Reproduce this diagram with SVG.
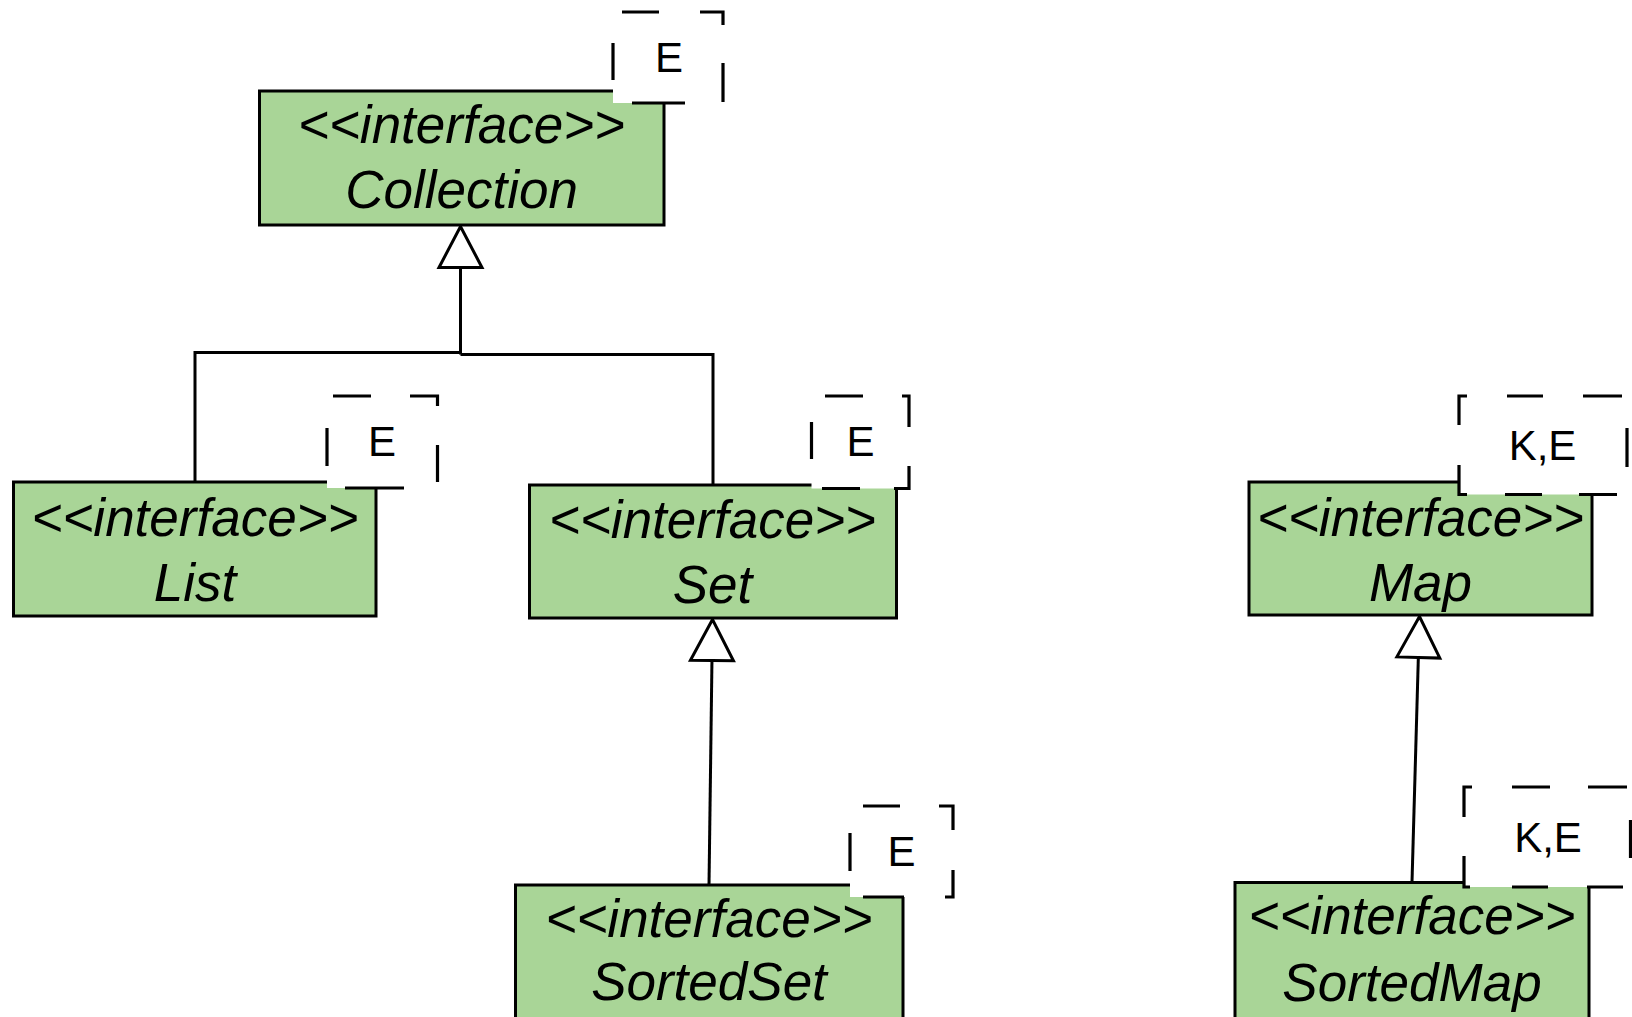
<svg xmlns="http://www.w3.org/2000/svg" width="1632" height="1017" viewBox="0 0 1632 1017">
  <style>
    .cls { fill: #a9d597; stroke: #000; stroke-width: 3; }
    .name { font-family: "Liberation Sans", Arial, sans-serif; font-style: italic; font-size: 53px; fill: #000; text-anchor: middle; }
    .tplbg { fill: #fff; stroke: none; }
    .dash { fill: none; stroke: #000; stroke-width: 3.2; stroke-linecap: butt; stroke-linejoin: miter; }
    .tpl { font-family: "Liberation Sans", Arial, sans-serif; font-size: 42px; fill: #000; text-anchor: middle; }
    .conn { fill: none; stroke: #000; stroke-width: 3; }
  </style>
  <defs>
    <marker id="tri" markerUnits="userSpaceOnUse" viewBox="-4 -4 52 52" markerWidth="52" markerHeight="52" refX="41" refY="21.5" orient="auto" overflow="visible">
      <path d="M0 0 L41 21.5 L0 43 Z" fill="#fff" stroke="#000" stroke-width="3"/>
    </marker>
  </defs>
  <rect width="1632" height="1017" fill="#fff"/>

  <g id="connectors">
    <path class="conn" d="M195 482 V352.5 H460.5"/>
    <path class="conn" d="M713 485 V354.5 H460.5"/>
    <path class="conn" d="M460.5 354.5 V226.5" marker-end="url(#tri)"/>
    <path class="conn" d="M709 885 L712.5 619.5" marker-end="url(#tri)"/>
    <path class="conn" d="M1412 882 L1419.5 616.5" marker-end="url(#tri)"/>
  </g>

  <g id="collection">
    <rect class="cls" x="259.5" y="91" width="404.5" height="134"/>
    <text class="name" x="461.5" y="143">&lt;&lt;interface&gt;&gt;</text>
    <text class="name" x="461.5" y="208">Collection</text>
    <rect class="tplbg" x="613" y="12" width="110" height="91"/>
    <path class="dash" d="M622 12 H659 M700 12 H723 V25 M723 63 V102 M685 103 H632 M613 80 V43"/>
    <text class="tpl" x="669" y="72">E</text>
  </g>

  <g id="list">
    <rect class="cls" x="13.5" y="482" width="362.5" height="134"/>
    <text class="name" x="195" y="536">&lt;&lt;interface&gt;&gt;</text>
    <text class="name" x="195" y="600.5">List</text>
    <rect class="tplbg" x="327" y="396" width="110.5" height="92"/>
    <path class="dash" d="M333 396 H371 M410 396 H437.5 V406 M437.5 445 V482 M404 488 H345 M327 466 V428"/>
    <text class="tpl" x="382" y="456">E</text>
  </g>

  <g id="set">
    <rect class="cls" x="529.5" y="485" width="367" height="133"/>
    <text class="name" x="712.5" y="538">&lt;&lt;interface&gt;&gt;</text>
    <text class="name" x="712.5" y="602.5">Set</text>
    <rect class="tplbg" x="811.5" y="396" width="97.5" height="92.5"/>
    <path class="dash" d="M825 396 H863 M902 396 H909 V427 M909 466 V488.5 H894 M860 488.5 H822 M811.5 459 V422"/>
    <text class="tpl" x="860.5" y="456">E</text>
  </g>

  <g id="sortedset">
    <rect class="cls" x="515.5" y="885" width="387.5" height="140"/>
    <text class="name" x="709" y="937">&lt;&lt;interface&gt;&gt;</text>
    <text class="name" x="709" y="1000">SortedSet</text>
    <rect class="tplbg" x="850" y="806" width="103" height="91"/>
    <path class="dash" d="M863 806 H900 M939 806 H953 V830 M953 870 V897 H945 M904 897 H863 M850 871 V833"/>
    <text class="tpl" x="901.5" y="866">E</text>
  </g>

  <g id="map">
    <rect class="cls" x="1249" y="482" width="343" height="133"/>
    <text class="name" x="1420.5" y="536">&lt;&lt;interface&gt;&gt;</text>
    <text class="name" x="1420.5" y="600.5">Map</text>
    <rect class="tplbg" x="1459" y="396" width="168" height="98.5"/>
    <path class="dash" d="M1459 425 V396 H1467 M1507 396 H1543 M1583 396 H1622 M1627 428 V467 M1617 494.5 H1579 M1542 494.5 H1505 M1467 494.5 H1459 V465"/>
    <text class="tpl" x="1542.5" y="460">K,E</text>
  </g>

  <g id="sortedmap">
    <rect class="cls" x="1235" y="882.5" width="354" height="140"/>
    <text class="name" x="1412" y="933.5">&lt;&lt;interface&gt;&gt;</text>
    <text class="name" x="1412" y="1001">SortedMap</text>
    <rect class="tplbg" x="1464" y="787" width="166.5" height="100"/>
    <path class="dash" d="M1464 817 V787 H1472 M1512 787 H1550 M1588 787 H1627 M1630.5 820 V858 M1623 887 H1587 M1548 887 H1512 M1470 887 H1464 V856"/>
    <text class="tpl" x="1548" y="852">K,E</text>
  </g>
</svg>
